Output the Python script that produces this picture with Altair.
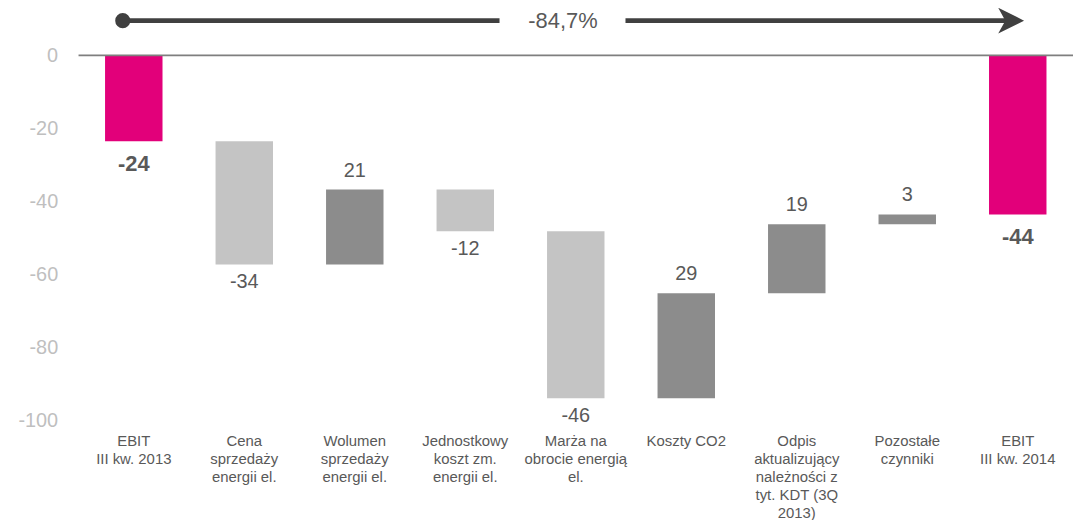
import altair as alt
import pandas as pd

# ---- data ----
categories = [
    "EBIT|III kw. 2013",
    "Cena|sprzedaży|energii el.",
    "Wolumen|sprzedaży|energii el.",
    "Jednostkowy|koszt zm.|energii el.",
    "Marża na|obrocie energią|el.",
    "Koszty CO2",
    "Odpis|aktualizujący|należności z|tyt. KDT (3Q|2013)",
    "Pozostałe|czynniki",
    "EBIT|III kw. 2014",
]
# bar heights as measured on the picture (mln zł)
values = [-23.5, -33.7, 20.5, -11.4, -45.7, 28.7, 18.9, 2.7, -43.5]
# the printed (rounded) value labels
value_labels = ["-24", "-34", "21", "-12", "-46", "29", "19", "3", "-44"]
kinds = ["total", "delta", "delta", "delta", "delta", "delta", "delta", "delta", "total"]
y_ticks = [0, -20, -40, -60, -80, -100]
change_label = "-84,7%"

# arrow annotation positions (in category-index units, y in data units)
arrow_level = 9.5
arrow_start = 0.40
arrow_gap = [3.81, 4.95]
arrow_head = 8.44
arrow_text_x = 4.384

# ---- build waterfall table ----
rows = []
running = 0
for cat, v, lab, k in zip(categories, values, value_labels, kinds):
    if k == "total":
        start, end = 0, v
        running = v
        grp = "total"
    else:
        start, end = running, running + v
        running = end
        grp = "neg" if v < 0 else "pos"
    rows.append(dict(cat=cat, start=start, end=end, value=v, grp=grp,
                     label=lab, low=min(start, end), high=max(start, end)))
df = pd.DataFrame(rows)

FONT = "Liberation Sans"
TXT = "#595959"

xenc = alt.X("cat:N", sort=categories,
             scale=alt.Scale(paddingInner=0.48, paddingOuter=0.24),
             axis=alt.Axis(title=None, labelExpr="split(datum.label, '|')", labelAngle=0,
                           labelFont=FONT, labelFontSize=15, labelColor=TXT,
                           labelLineHeight=18, labelPadding=13, ticks=False, domain=False,
                           labelBaseline="top", labelLimit=300, grid=False))
yscale = alt.Scale(domain=[-100, 12.5], nice=False, zero=False)
yaxis = alt.Axis(values=y_ticks, grid=False, domain=False, ticks=False,
                 labelFont=FONT, labelFontSize=20, labelColor="#bfbfbf",
                 labelPadding=21, labelExpr="replace(datum.label, '\u2212', '-')")

bars = alt.Chart(df).mark_bar(strokeWidth=0).encode(
    x=xenc,
    y=alt.Y("start:Q", scale=yscale, title=None, axis=yaxis),
    y2="end:Q",
    color=alt.Color("grp:N", scale=alt.Scale(domain=["total", "neg", "pos"],
                                             range=["#E2007A", "#C4C4C4", "#8C8C8C"]),
                    legend=None),
)

lab_neg = alt.Chart(df).transform_filter("datum.grp == 'neg'").mark_text(
    baseline="top", dy=8, font=FONT, fontSize=20, color=TXT).encode(
    x=xenc, y=alt.Y("low:Q", scale=yscale, title=None, axis=yaxis), text="label:N")
lab_pos = alt.Chart(df).transform_filter("datum.grp == 'pos'").mark_text(
    baseline="bottom", dy=-9, font=FONT, fontSize=20, color=TXT).encode(
    x=xenc, y=alt.Y("high:Q", scale=yscale, title=None, axis=yaxis), text="label:N")
lab_tot = alt.Chart(df).transform_filter("datum.grp == 'total'").mark_text(
    baseline="top", dy=13, font=FONT, fontSize=22, fontWeight="bold", color=TXT).encode(
    x=xenc, y=alt.Y("low:Q", scale=yscale, title=None, axis=yaxis), text="label:N")

main = alt.layer(bars, lab_neg, lab_pos, lab_tot)

# ---- annotation group (quantitative x in category-index units) ----
xq = alt.Scale(domain=[0, len(categories)], nice=False, zero=False)
seg_df = pd.DataFrame({"x": [arrow_start, arrow_gap[1]], "x2": [arrow_gap[0], arrow_head],
                       "y": [arrow_level, arrow_level]})
segs = alt.Chart(seg_df).mark_rule(color="#404040", strokeWidth=5).encode(
    x=alt.X("x:Q", scale=xq, axis=None), x2="x2:Q",
    y=alt.Y("y:Q", scale=yscale, title=None, axis=yaxis))
dot = alt.Chart(pd.DataFrame({"x": [arrow_start], "y": [arrow_level]})).mark_point(
    shape="circle", filled=True, size=230, color="#404040", opacity=1).encode(
    x=alt.X("x:Q", scale=xq, axis=None), y=alt.Y("y:Q", scale=yscale, title=None, axis=yaxis))
head = alt.Chart(pd.DataFrame({"x": [arrow_head], "y": [arrow_level]})).mark_point(
    shape="M1,0 L-1,-1 L-0.45,0 L-1,1 Z", filled=True, size=676, color="#404040",
    opacity=1, strokeWidth=0).encode(
    x=alt.X("x:Q", scale=xq, axis=None), y=alt.Y("y:Q", scale=yscale, title=None, axis=yaxis))
pct = alt.Chart(pd.DataFrame({"x": [arrow_text_x], "y": [arrow_level], "t": [change_label]})).mark_text(
    font=FONT, fontSize=22, color=TXT, baseline="middle").encode(
    x=alt.X("x:Q", scale=xq, axis=None), y=alt.Y("y:Q", scale=yscale, title=None, axis=yaxis),
    text="t:N")
zero = alt.Chart(pd.DataFrame({"x": [0], "x2": [len(categories)], "y": [0]})).mark_rule(
    color="#7f7f7f", strokeWidth=2).encode(
    x=alt.X("x:Q", scale=xq, axis=None), x2="x2:Q",
    y=alt.Y("y:Q", scale=yscale, title=None, axis=yaxis))

annot = alt.layer(zero, segs, dot, head, pct)

chart = alt.layer(main, annot).resolve_scale(x="independent").properties(
    width=1001, height=414,
    padding={"left": 71, "top": 0, "right": 0, "bottom": 98},
    autosize=alt.AutoSizeParams(type="none"),
    background="white",
).configure_view(strokeWidth=0, stroke="transparent")

chart.save("out.html", embed_options={"renderer": "svg", "actions": False})
